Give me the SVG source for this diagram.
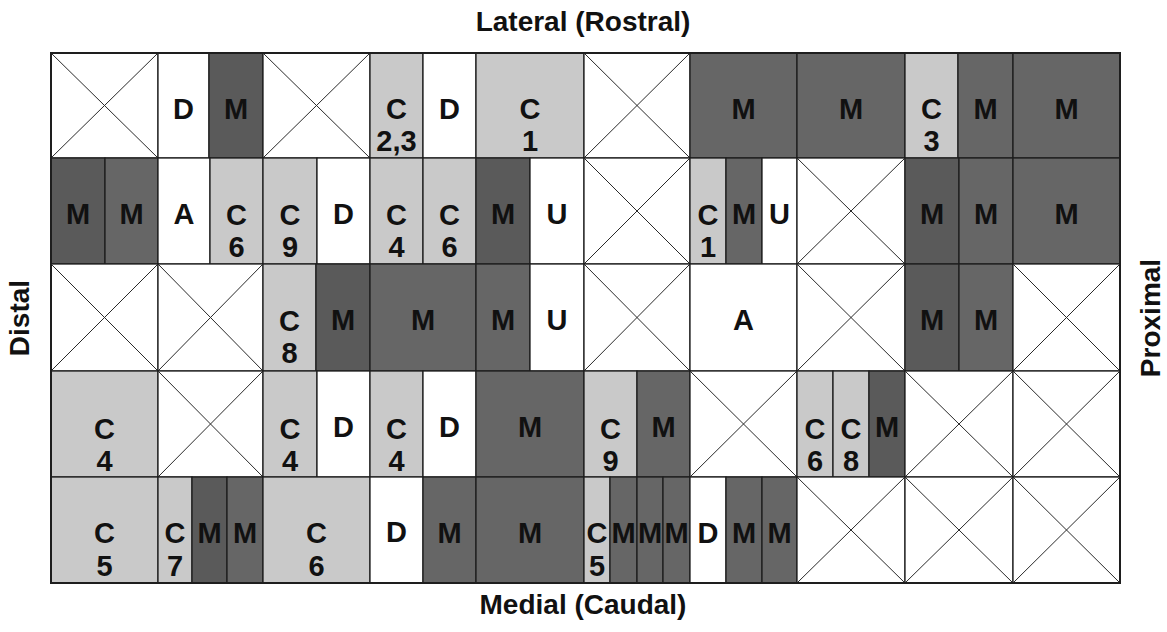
<svg xmlns="http://www.w3.org/2000/svg" width="1167" height="632" viewBox="0 0 1167 632">
<style>
.w{fill:#ffffff;stroke:#1e1e1e;stroke-width:1.3}
.l{fill:#c9c9c9;stroke:#1e1e1e;stroke-width:1.3}
.d{fill:#666666;stroke:#1e1e1e;stroke-width:1.3}
.dd{fill:#5a5a5a;stroke:#1e1e1e;stroke-width:1.3}
.x{stroke:#2a2a2a;stroke-width:1}
text{font-family:"Liberation Sans",Arial,sans-serif;font-weight:bold;font-size:29px;fill:#111;text-anchor:middle}
.t{font-size:28px}
</style>
<rect width="1167" height="632" fill="#ffffff"/>
<g id="titles">
<text class="t" x="583" y="31">Lateral (Rostral)</text>
<text class="t" x="583" y="614">Medial (Caudal)</text>
<text class="t" transform="translate(29,318) rotate(-90)">Distal</text>
<text class="t" transform="translate(1160,318) rotate(-90)">Proximal</text>
</g>
<g id="row1">
<g id="r1c1"><rect class="w" x="51" y="53" width="107" height="105"/><line class="x" x1="51" y1="53" x2="158" y2="158"/><line class="x" x1="158" y1="53" x2="51" y2="158"/></g>
<g id="r1c2"><rect class="w" x="158" y="53" width="51" height="105"/><text x="183.5" y="119">D</text></g>
<g id="r1c3"><rect class="dd" x="209" y="53" width="54" height="105"/><text x="236" y="119">M</text></g>
<g id="r1c4"><rect class="w" x="263" y="53" width="107" height="105"/><line class="x" x1="263" y1="53" x2="370" y2="158"/><line class="x" x1="370" y1="53" x2="263" y2="158"/></g>
<g id="r1c5"><rect class="l" x="370" y="53" width="53" height="105"/><text x="396.5" y="119">C</text><text x="396.5" y="151">2,3</text></g>
<g id="r1c6"><rect class="w" x="423" y="53" width="53" height="105"/><text x="449.5" y="119">D</text></g>
<g id="r1c7"><rect class="l" x="476" y="53" width="108" height="105"/><text x="530" y="119">C</text><text x="530" y="151">1</text></g>
<g id="r1c8"><rect class="w" x="584" y="53" width="106" height="105"/><line class="x" x1="584" y1="53" x2="690" y2="158"/><line class="x" x1="690" y1="53" x2="584" y2="158"/></g>
<g id="r1c9"><rect class="d" x="690" y="53" width="107" height="105"/><text x="743.5" y="119">M</text></g>
<g id="r1c10"><rect class="d" x="797" y="53" width="108" height="105"/><text x="851" y="119">M</text></g>
<g id="r1c11"><rect class="l" x="905" y="53" width="53" height="105"/><text x="931.5" y="119">C</text><text x="931.5" y="151">3</text></g>
<g id="r1c12"><rect class="d" x="958" y="53" width="55" height="105"/><text x="985.5" y="119">M</text></g>
<g id="r1c13"><rect class="d" x="1013" y="53" width="107" height="105"/><text x="1066.5" y="119">M</text></g>
</g>
<g id="row2">
<g id="r2c1"><rect class="dd" x="51" y="158" width="54" height="106"/><text x="78" y="224">M</text></g>
<g id="r2c2"><rect class="d" x="105" y="158" width="53" height="106"/><text x="131.5" y="224">M</text></g>
<g id="r2c3"><rect class="w" x="158" y="158" width="52" height="106"/><text x="184" y="224">A</text></g>
<g id="r2c4"><rect class="l" x="210" y="158" width="53" height="106"/><text x="236.5" y="225">C</text><text x="236.5" y="257">6</text></g>
<g id="r2c5"><rect class="l" x="263" y="158" width="54" height="106"/><text x="290" y="225">C</text><text x="290" y="257">9</text></g>
<g id="r2c6"><rect class="w" x="317" y="158" width="53" height="106"/><text x="343.5" y="224">D</text></g>
<g id="r2c7"><rect class="l" x="370" y="158" width="53" height="106"/><text x="396.5" y="225">C</text><text x="396.5" y="257">4</text></g>
<g id="r2c8"><rect class="l" x="423" y="158" width="53" height="106"/><text x="449.5" y="225">C</text><text x="449.5" y="257">6</text></g>
<g id="r2c9"><rect class="dd" x="476" y="158" width="54" height="106"/><text x="503" y="224">M</text></g>
<g id="r2c10"><rect class="w" x="530" y="158" width="54" height="106"/><text x="557" y="224">U</text></g>
<g id="r2c11"><rect class="w" x="584" y="158" width="106" height="106"/><line class="x" x1="584" y1="158" x2="690" y2="264"/><line class="x" x1="690" y1="158" x2="584" y2="264"/></g>
<g id="r2c12"><rect class="l" x="690" y="158" width="36" height="106"/><text x="708" y="225">C</text><text x="708" y="257">1</text></g>
<g id="r2c13"><rect class="d" x="726" y="158" width="36" height="106"/><text x="744" y="224">M</text></g>
<g id="r2c14"><rect class="w" x="762" y="158" width="35" height="106"/><text x="779.5" y="224">U</text></g>
<g id="r2c15"><rect class="w" x="797" y="158" width="108" height="106"/><line class="x" x1="797" y1="158" x2="905" y2="264"/><line class="x" x1="905" y1="158" x2="797" y2="264"/></g>
<g id="r2c16"><rect class="dd" x="905" y="158" width="54" height="106"/><text x="932" y="224">M</text></g>
<g id="r2c17"><rect class="d" x="959" y="158" width="54" height="106"/><text x="986" y="224">M</text></g>
<g id="r2c18"><rect class="d" x="1013" y="158" width="107" height="106"/><text x="1066.5" y="224">M</text></g>
</g>
<g id="row3">
<g id="r3c1"><rect class="w" x="51" y="264" width="107" height="107"/><line class="x" x1="51" y1="264" x2="158" y2="371"/><line class="x" x1="158" y1="264" x2="51" y2="371"/></g>
<g id="r3c2"><rect class="w" x="158" y="264" width="105" height="107"/><line class="x" x1="158" y1="264" x2="263" y2="371"/><line class="x" x1="263" y1="264" x2="158" y2="371"/></g>
<g id="r3c3"><rect class="l" x="263" y="264" width="53" height="107"/><text x="289.5" y="331">C</text><text x="289.5" y="363">8</text></g>
<g id="r3c4"><rect class="dd" x="316" y="264" width="54" height="107"/><text x="343" y="330">M</text></g>
<g id="r3c5"><rect class="d" x="370" y="264" width="106" height="107"/><text x="423" y="330">M</text></g>
<g id="r3c6"><rect class="d" x="476" y="264" width="54" height="107"/><text x="503" y="330">M</text></g>
<g id="r3c7"><rect class="w" x="530" y="264" width="54" height="107"/><text x="557" y="330">U</text></g>
<g id="r3c8"><rect class="w" x="584" y="264" width="106" height="107"/><line class="x" x1="584" y1="264" x2="690" y2="371"/><line class="x" x1="690" y1="264" x2="584" y2="371"/></g>
<g id="r3c9"><rect class="w" x="690" y="264" width="107" height="107"/><text x="743.5" y="330">A</text></g>
<g id="r3c10"><rect class="w" x="797" y="264" width="108" height="107"/><line class="x" x1="797" y1="264" x2="905" y2="371"/><line class="x" x1="905" y1="264" x2="797" y2="371"/></g>
<g id="r3c11"><rect class="dd" x="905" y="264" width="54" height="107"/><text x="932" y="330">M</text></g>
<g id="r3c12"><rect class="d" x="959" y="264" width="54" height="107"/><text x="986" y="330">M</text></g>
<g id="r3c13"><rect class="w" x="1013" y="264" width="107" height="107"/><line class="x" x1="1013" y1="264" x2="1120" y2="371"/><line class="x" x1="1120" y1="264" x2="1013" y2="371"/></g>
</g>
<g id="row4">
<g id="r4c1"><rect class="l" x="51" y="371" width="107" height="106"/><text x="104.5" y="439">C</text><text x="104.5" y="471">4</text></g>
<g id="r4c2"><rect class="w" x="158" y="371" width="105" height="106"/><line class="x" x1="158" y1="371" x2="263" y2="477"/><line class="x" x1="263" y1="371" x2="158" y2="477"/></g>
<g id="r4c3"><rect class="l" x="263" y="371" width="54" height="106"/><text x="290" y="439">C</text><text x="290" y="471">4</text></g>
<g id="r4c4"><rect class="w" x="317" y="371" width="53" height="106"/><text x="343.5" y="437">D</text></g>
<g id="r4c5"><rect class="l" x="370" y="371" width="53" height="106"/><text x="396.5" y="439">C</text><text x="396.5" y="471">4</text></g>
<g id="r4c6"><rect class="w" x="423" y="371" width="53" height="106"/><text x="449.5" y="437">D</text></g>
<g id="r4c7"><rect class="d" x="476" y="371" width="108" height="106"/><text x="530" y="437">M</text></g>
<g id="r4c8"><rect class="l" x="584" y="371" width="53" height="106"/><text x="610.5" y="439">C</text><text x="610.5" y="471">9</text></g>
<g id="r4c9"><rect class="d" x="637" y="371" width="53" height="106"/><text x="663.5" y="437">M</text></g>
<g id="r4c10"><rect class="w" x="690" y="371" width="107" height="106"/><line class="x" x1="690" y1="371" x2="797" y2="477"/><line class="x" x1="797" y1="371" x2="690" y2="477"/></g>
<g id="r4c11"><rect class="l" x="797" y="371" width="36" height="106"/><text x="815" y="439">C</text><text x="815" y="471">6</text></g>
<g id="r4c12"><rect class="l" x="833" y="371" width="36" height="106"/><text x="851" y="439">C</text><text x="851" y="471">8</text></g>
<g id="r4c13"><rect class="dd" x="869" y="371" width="36" height="106"/><text x="887" y="437">M</text></g>
<g id="r4c14"><rect class="w" x="905" y="371" width="108" height="106"/><line class="x" x1="905" y1="371" x2="1013" y2="477"/><line class="x" x1="1013" y1="371" x2="905" y2="477"/></g>
<g id="r4c15"><rect class="w" x="1013" y="371" width="107" height="106"/><line class="x" x1="1013" y1="371" x2="1120" y2="477"/><line class="x" x1="1120" y1="371" x2="1013" y2="477"/></g>
</g>
<g id="row5">
<g id="r5c1"><rect class="l" x="51" y="477" width="107" height="106"/><text x="104.5" y="543">C</text><text x="104.5" y="576">5</text></g>
<g id="r5c2"><rect class="l" x="158" y="477" width="34" height="106"/><text x="175" y="543">C</text><text x="175" y="576">7</text></g>
<g id="r5c3"><rect class="dd" x="192" y="477" width="35" height="106"/><text x="209.5" y="543">M</text></g>
<g id="r5c4"><rect class="d" x="227" y="477" width="36" height="106"/><text x="245" y="543">M</text></g>
<g id="r5c5"><rect class="l" x="263" y="477" width="107" height="106"/><text x="316.5" y="543">C</text><text x="316.5" y="576">6</text></g>
<g id="r5c6"><rect class="w" x="370" y="477" width="53" height="106"/><text x="396.5" y="542">D</text></g>
<g id="r5c7"><rect class="d" x="423" y="477" width="53" height="106"/><text x="449.5" y="543">M</text></g>
<g id="r5c8"><rect class="d" x="476" y="477" width="108" height="106"/><text x="530" y="543">M</text></g>
<g id="r5c9"><rect class="l" x="584" y="477" width="26" height="106"/><text x="597" y="543">C</text><text x="597" y="576">5</text></g>
<g id="r5c10"><rect class="d" x="610" y="477" width="27" height="106"/><text x="623.5" y="543">M</text></g>
<g id="r5c11"><rect class="d" x="637" y="477" width="26" height="106"/><text x="650" y="543">M</text></g>
<g id="r5c12"><rect class="d" x="663" y="477" width="27" height="106"/><text x="676.5" y="543">M</text></g>
<g id="r5c13"><rect class="w" x="690" y="477" width="36" height="106"/><text x="708" y="543">D</text></g>
<g id="r5c14"><rect class="d" x="726" y="477" width="36" height="106"/><text x="744" y="543">M</text></g>
<g id="r5c15"><rect class="d" x="762" y="477" width="35" height="106"/><text x="779.5" y="543">M</text></g>
<g id="r5c16"><rect class="w" x="797" y="477" width="108" height="106"/><line class="x" x1="797" y1="477" x2="905" y2="583"/><line class="x" x1="905" y1="477" x2="797" y2="583"/></g>
<g id="r5c17"><rect class="w" x="905" y="477" width="108" height="106"/><line class="x" x1="905" y1="477" x2="1013" y2="583"/><line class="x" x1="1013" y1="477" x2="905" y2="583"/></g>
<g id="r5c18"><rect class="w" x="1013" y="477" width="107" height="106"/><line class="x" x1="1013" y1="477" x2="1120" y2="583"/><line class="x" x1="1120" y1="477" x2="1013" y2="583"/></g>
</g>
<g id="connectors"/>
<rect x="51" y="53" width="1069" height="530" fill="none" stroke="#1e1e1e" stroke-width="2"/>
</svg>
